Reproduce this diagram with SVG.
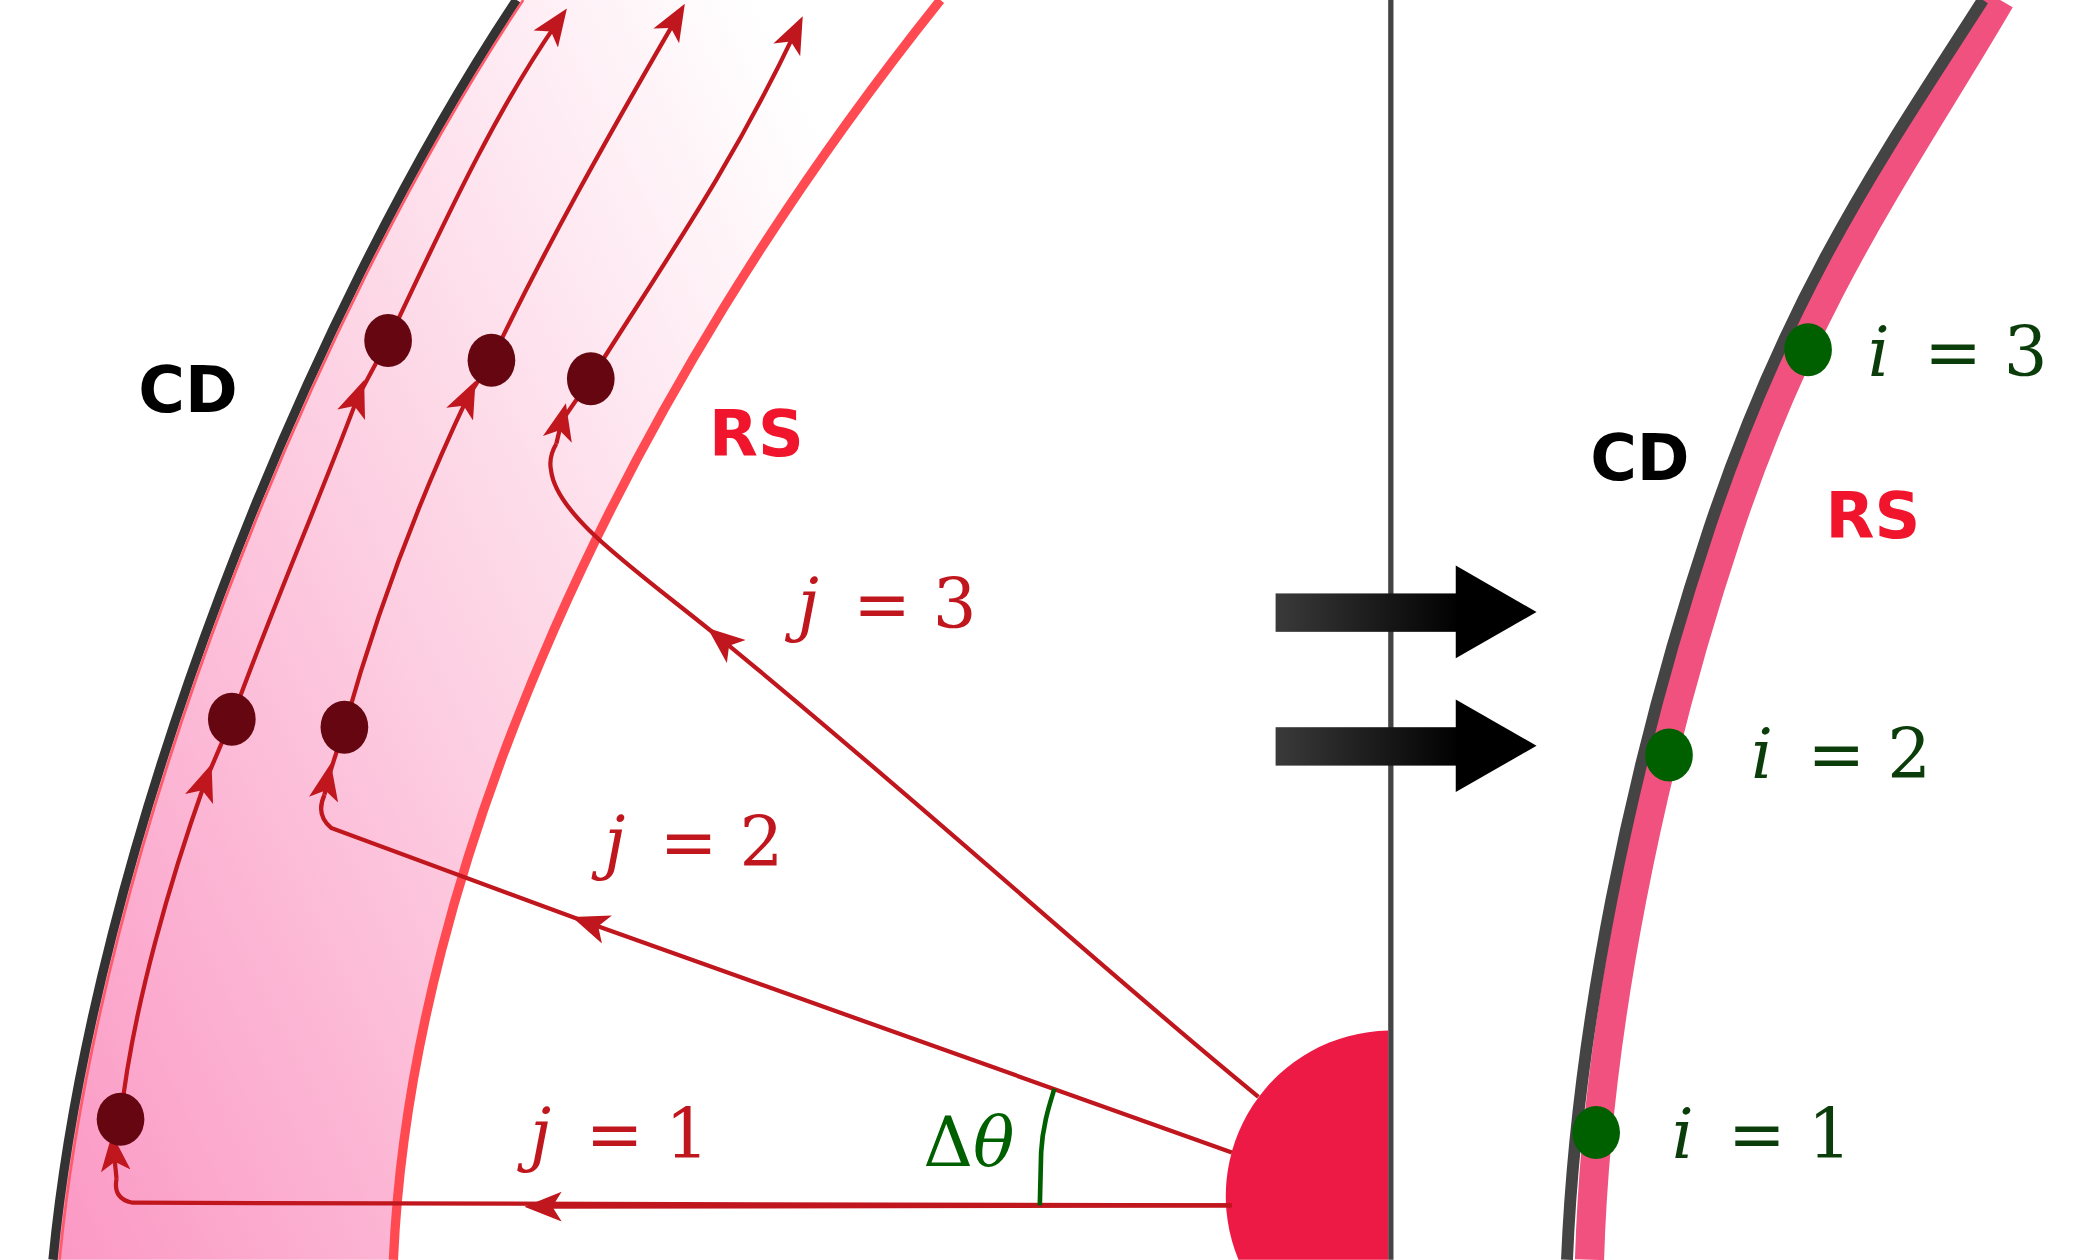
<svg xmlns="http://www.w3.org/2000/svg" width="2077" height="1260" viewBox="0 0 2077 1260">
<defs>
<linearGradient id="band" x1="0" y1="1" x2="1" y2="0.3">
<stop offset="0" stop-color="#fb98c4"/><stop offset="0.55" stop-color="#fdd3e4"/><stop offset="1" stop-color="#ffffff"/>
</linearGradient>
<linearGradient id="shaft" x1="0" x2="1"><stop offset="0" stop-color="#3a3a3a"/><stop offset="1" stop-color="#000"/></linearGradient>
<marker id="ah" viewBox="0 0 20 20" refX="10" refY="10" markerWidth="28" markerHeight="28" markerUnits="userSpaceOnUse" orient="auto">
<path d="M0,2 L20,10 L0,18 L5,10 Z" fill="#c0161d"/>
</marker>
<style>
.tr{fill:none;stroke:#c0161d;stroke-width:3.2}
.dot{fill:#650610}
.gd{fill:#006000}
.lab{font-family:"DejaVu Serif","Liberation Serif",serif;font-style:italic;font-size:52px}
.eq{font-family:"DejaVu Serif","Liberation Serif",serif;font-size:52px}
.bold{font-family:"DejaVu Sans","Liberation Sans",sans-serif;font-weight:bold;font-size:48px}
</style>
</defs>
<rect width="2077" height="1260" fill="#fff"/>
<g transform="scale(1.3246)">
<g id="band-left">
<path d="M40,951 C70,640 230,240 390,0 L710,0 C470,300 310,650 297,951 Z" fill="url(#band)"/>
<path d="M40,951 C70,640 230,240 390,0" fill="none" stroke="#333" stroke-width="7"/>
<path d="M45,951 C75,640 235,240 395,0" fill="none" stroke="#ff5a6a" stroke-width="2"/>
<path d="M710,0 C470,300 310,650 297,951" fill="none" stroke="#ff4a52" stroke-width="7"/>
</g>
<line x1="1050" y1="0" x2="1050" y2="951" stroke="#444" stroke-width="4"/>
<g id="source"><path d="M1048,778 A125,125 0 0 0 935,951 L1048,951 Z" fill="#ec1a45"/></g>
<g id="connectors">
<path class="tr" d="M930,910 L100,908 Q85,905 88,890" />
<path class="tr" d="M930,910 L410,911" marker-end="url(#ah)"/>
<path class="tr" d="M88,890 L86,870" marker-end="url(#ah)"/>
<path class="tr" d="M91,845 C100,760 130,660 155,590" marker-end="url(#ah)"/>
<path class="tr" d="M155,590 L175,543"/>
<path class="tr" d="M175,543 C205,460 240,380 270,300" marker-end="url(#ah)"/>
<path class="tr" d="M270,300 L293,257"/>
<path class="tr" d="M293,257 C330,180 370,90 420,18" marker-end="url(#ah)"/>
<path class="tr" d="M930,870 L445,697" marker-end="url(#ah)"/>
<path class="tr" d="M445,697 L250,625 Q238,615 245,600" />
<path class="tr" d="M245,600 L247,590" marker-end="url(#ah)"/>
<path class="tr" d="M247,590 L260,549"/>
<path class="tr" d="M260,549 C285,460 315,380 353,300" marker-end="url(#ah)"/>
<path class="tr" d="M353,300 L371,272"/>
<path class="tr" d="M371,272 C410,190 455,110 510,15" marker-end="url(#ah)"/>
<path class="tr" d="M950,828 C830,730 700,610 545,483" marker-end="url(#ah)"/>
<path class="tr" d="M545,483 C480,430 420,390 416,355 Q414,345 420,335"/>
<path class="tr" d="M420,335 L424,318" marker-end="url(#ah)"/>
<path class="tr" d="M424,318 L446,286"/>
<path class="tr" d="M446,286 C500,200 550,130 600,25" marker-end="url(#ah)"/>
<path d="M785,910 L786,870 C787,850 792,835 796,822" fill="none" stroke="#006000" stroke-width="3.5"/>
</g>
<g id="dots">
<ellipse class="dot" cx="91" cy="845" rx="18" ry="20"/>
<ellipse class="dot" cx="175" cy="543" rx="18" ry="20"/>
<ellipse class="dot" cx="293" cy="257" rx="18" ry="20"/>
<ellipse class="dot" cx="260" cy="549" rx="18" ry="20"/>
<ellipse class="dot" cx="371" cy="272" rx="18" ry="20"/>
<ellipse class="dot" cx="446" cy="286" rx="18" ry="20"/>
</g>
<g id="labels-left">
<text class="bold" x="142" y="311" text-anchor="middle" fill="#000">CD</text>
<text class="bold" x="571" y="344" text-anchor="middle" fill="#f0142c">RS</text>
<text x="400" y="874" fill="#c0161d"><tspan class="lab">j</tspan><tspan class="eq" dx="26">= 1</tspan></text>
<text x="456" y="654" fill="#c0161d"><tspan class="lab">j</tspan><tspan class="eq" dx="26">= 2</tspan></text>
<text x="602" y="474" fill="#c0161d"><tspan class="lab">j</tspan><tspan class="eq" dx="26">= 3</tspan></text>
<text x="697" y="880" class="eq" fill="#006000">Δ<tspan class="lab">θ</tspan></text>
</g>
<g id="equiv-arrows">
<rect x="963" y="448" width="140" height="29" fill="url(#shaft)"/>
<path d="M1099,427 L1160,462 L1099,497 Z" fill="#000"/>
<rect x="963" y="549" width="140" height="29" fill="url(#shaft)"/>
<path d="M1099,528 L1160,563 L1099,598 Z" fill="#000"/>
</g>
<g id="band-right">
<path d="M1200,951 C1205,780 1245,580 1305,400 S1440,120 1510,0" fill="none" stroke="#f0517f" stroke-width="22"/>
<path d="M1183,951 C1190,780 1230,580 1290,400 S1420,120 1497,0" fill="none" stroke="#444" stroke-width="9"/>
<ellipse class="gd" cx="1205" cy="855" rx="18" ry="20"/>
<ellipse class="gd" cx="1260" cy="570" rx="18" ry="20"/>
<ellipse class="gd" cx="1365" cy="264" rx="18" ry="20"/>
<text class="bold" x="1238" y="362" text-anchor="middle" fill="#000">CD</text>
<text class="bold" x="1414" y="406" text-anchor="middle" fill="#f0142c">RS</text>
<text x="1262" y="874" fill="#0b3d0b"><tspan class="lab">i</tspan><tspan class="eq" dx="26">= 1</tspan></text>
<text x="1322" y="587" fill="#0b3d0b"><tspan class="lab">i</tspan><tspan class="eq" dx="26">= 2</tspan></text>
<text x="1410" y="284" fill="#0b3d0b"><tspan class="lab">i</tspan><tspan class="eq" dx="26">= 3</tspan></text>
</g>
</g>
</svg>
